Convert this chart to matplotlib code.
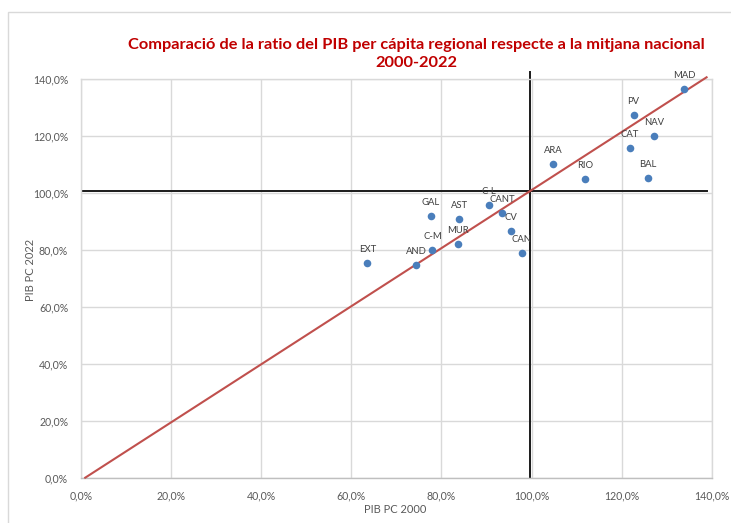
import matplotlib
matplotlib.use('Agg')
import matplotlib.pyplot as plt
import matplotlib.patches as mpatches
from matplotlib.ticker import FuncFormatter

# ── Data: ratio of regional GDP per capita vs national average (%) ──────────
regions = ['MAD', 'PV', 'NAV', 'CAT', 'ARA', 'RIO', 'BAL', 'C-L', 'CANT',
           'CV', 'CAN', 'GAL', 'AST', 'MUR', 'C-M', 'AND', 'EXT']
pib_2000 = [133.9, 122.6, 127.2, 121.8, 104.7, 111.8, 125.8, 90.6, 93.5,
            95.4, 97.8, 77.6, 84.0, 83.7, 78.0, 74.4, 63.6]
pib_2022 = [136.5, 127.4, 120.1, 115.7, 110.1, 105.0, 105.1, 95.8, 92.8,
            86.7, 78.9, 91.8, 90.9, 82.1, 80.0, 74.6, 75.5]

trend_x = [1.0, 138.8]
trend_y = [0.0, 140.6]
ref_x = 99.7
ref_y = 100.5

ticks = [0, 20, 40, 60, 80, 100, 120, 140]

# ── Style ──────────────────────────────────────────────────────────────────
FONT = ['Lato', 'DejaVu Sans']
GRID = '#d9d9d9'
TICK_COLOR = '#595959'
DOT = '#4a7ebb'
TREND = '#c0504d'
TITLE_RED = '#c00000'

plt.rcParams['font.family'] = FONT

fig = plt.figure(figsize=(7.31, 5.23), dpi=100)
fig.patch.set_facecolor('white')

# light chart-area border (runs off right and bottom edges)
fig.patches.append(mpatches.Rectangle((8 / 731, -0.05), 1.2, 1 - 12 / 523 + 0.05,
                                      transform=fig.transFigure, fill=False,
                                      edgecolor=GRID, linewidth=1.0))

ax = fig.add_axes([80.7 / 731, 1 - 477.7 / 523, (712 - 80.7) / 731, (477.7 - 79) / 523])
ax.set_xlim(0, 140)
ax.set_ylim(0, 140)
ax.set_xticks(ticks)
ax.set_yticks(ticks)
pct = FuncFormatter(lambda v, p: f'{v:.1f}%'.replace('.', ','))
ax.xaxis.set_major_formatter(pct)
ax.yaxis.set_major_formatter(pct)
ax.tick_params(length=0, labelsize=7.6, labelcolor=TICK_COLOR, pad=9)
ax.grid(True, color=GRID, linewidth=1.0)
ax.set_axisbelow(True)
for s in ax.spines.values():
    s.set_color(GRID)
    s.set_linewidth(1.0)
ax.spines['bottom'].set_color('#bfbfbf')

# reference lines at 100%
ax.plot([ref_x, ref_x], [0, 142.3], color='#1a1a1a', linewidth=1.4, clip_on=False, zorder=2)
ax.plot([0, 139], [ref_y, ref_y], color='#1a1a1a', linewidth=1.4, zorder=2)

# trend line
ax.plot(trend_x, trend_y, color=TREND, linewidth=1.5, zorder=3, clip_on=False)

# points and labels
ax.scatter(pib_2000, pib_2022, s=30, color=DOT, zorder=4, linewidths=0)
for name, x, y in zip(regions, pib_2000, pib_2022):
    ax.annotate(name, (x, y), xytext=(0, 13.5), textcoords='offset pixels',
                ha='center', va='center', fontsize=6.8, color='#404040', zorder=5)

ax.set_xlabel('PIB PC 2000', fontsize=8, color=TICK_COLOR)
ax.set_ylabel('PIB PC 2022', fontsize=8, color=TICK_COLOR)
ax.xaxis.set_label_coords(0.498, -0.081)
ax.yaxis.set_label_coords(-0.08, 0.52)
ax.xaxis.label.set_va('center')
ax.yaxis.label.set_va('center')

fig.text(416 / 731, 1 - 54 / 523,
         'Comparació de la ratio del PIB per cápita regional respecte a la mitjana nacional\n2000-2022',
         ha='center', va='center', fontsize=11.8, fontweight='bold', color=TITLE_RED,
         linespacing=1.45)

fig.savefig('out.png', dpi=100, facecolor='white')
plt.close(fig)
